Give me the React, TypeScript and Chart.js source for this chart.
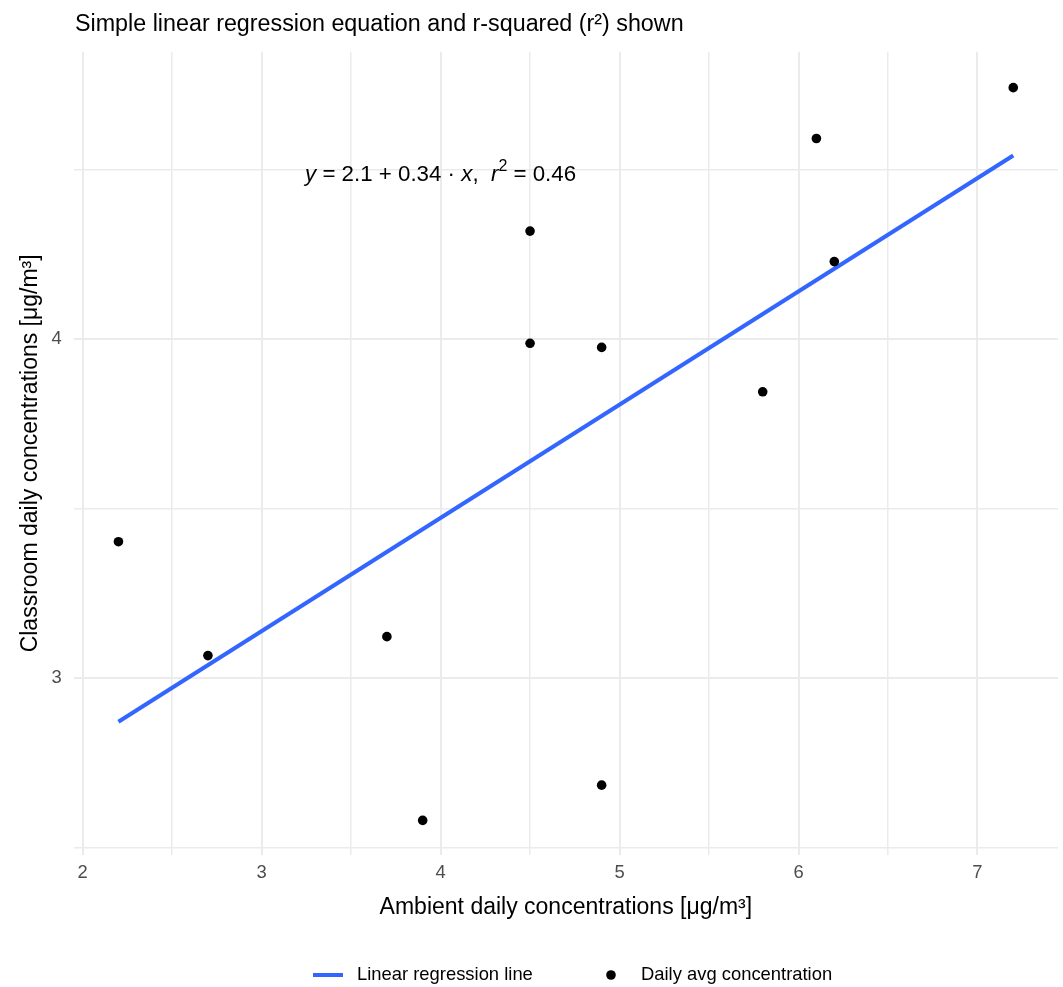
import React, { useEffect, useRef } from "react";
import { Chart, registerables } from "chart.js";

Chart.register(...registerables);

// ---- data ----
const ambient = [2.2, 2.7, 3.7, 3.9, 4.5, 4.5, 4.9, 4.9, 5.8, 6.1, 6.2, 7.2];
const classroom = [3.403, 3.067, 3.123, 2.581, 4.319, 3.988, 3.976, 2.685, 3.845, 4.592, 4.229, 4.742];
const fitX = [2.2, 7.2];
const fitY = [2.872, 4.542];

const xTicks = [2, 2.5, 3, 3.5, 4, 4.5, 5, 5.5, 6, 6.5, 7];
const xTickLabels = ["2", "", "3", "", "4", "", "5", "", "6", "", "7"];
const yTicks = [2.5, 3, 3.5, 4, 4.5];
const yTickLabels = ["", "3", "", "4", ""];
const xRange = [1.95, 7.45];
const yRange = [2.479, 4.848];

const titleText = "Simple linear regression equation and r-squared (r²) shown";
const xTitle = "Ambient daily concentrations [μg/m³]";
const yTitle = "Classroom daily concentrations [μg/m³]";
const legendLabels = ["Linear regression line", "Daily avg concentration"];
const equationAt = [4.0, 4.49];
const equationParts = [
  { t: "y", k: "i" },
  { t: " = 2.1 + 0.34 · ", k: "n" },
  { t: "x", k: "i" },
  { t: ",  ", k: "n" },
  { t: "r", k: "i" },
  { t: "2", k: "s" },
  { t: " = 0.46", k: "n" },
];

const FONT = '"Liberation Sans", Arial, Helvetica, sans-serif';
const LINE_COLOR = "#3366FF";
const GRID_COLOR = "#EBEBEB";

const extrasPlugin = {
  id: "extras",
  afterDatasetsDraw(chart: any) {
    const ctx = chart.ctx;
    const xs = chart.scales.x;
    const ys = chart.scales.y;
    const cx = xs.getPixelForValue(equationAt[0]);
    const cy = ys.getPixelForValue(equationAt[1]);
    const size = 22.3;
    const fN = `${size}px ${FONT}`;
    const fI = `italic ${size}px ${FONT}`;
    const fS = `${Math.round(size * 0.7)}px ${FONT}`;
    ctx.save();
    ctx.fillStyle = "#000";
    ctx.textBaseline = "alphabetic";
    ctx.textAlign = "left";
    const widths: number[] = [];
    let total = 0;
    for (const p of equationParts) {
      ctx.font = p.k === "i" ? fI : p.k === "s" ? fS : fN;
      const w = ctx.measureText(p.t).width;
      widths.push(w);
      total += w;
    }
    let x = cx - total / 2;
    const base = cy + 8;
    equationParts.forEach((p, i) => {
      ctx.font = p.k === "i" ? fI : p.k === "s" ? fS : fN;
      ctx.fillText(p.t, x, p.k === "s" ? base - size * 0.45 : base);
      x += widths[i];
    });
    ctx.restore();
  },
  afterDraw(chart: any) {
    const ctx = chart.ctx;
    ctx.save();
    // title
    ctx.fillStyle = "#000";
    ctx.font = `23.3px ${FONT}`;
    ctx.textAlign = "left";
    ctx.textBaseline = "alphabetic";
    ctx.fillText(titleText, 75, 31);

    // legend
    const ly = 975;
    ctx.font = `18.4px ${FONT}`;
    ctx.textBaseline = "middle";
    ctx.strokeStyle = LINE_COLOR;
    ctx.lineWidth = 4;
    ctx.lineCap = "butt";
    ctx.beginPath();
    ctx.moveTo(313, ly);
    ctx.lineTo(343, ly);
    ctx.stroke();
    ctx.fillStyle = "#000";
    ctx.fillText(legendLabels[0], 357, ly);
    ctx.beginPath();
    ctx.arc(611, ly, 4.8, 0, Math.PI * 2);
    ctx.fill();
    ctx.fillText(legendLabels[1], 641, ly);
    ctx.restore();
  },
};

export default function App() {
  const ref = useRef<HTMLCanvasElement | null>(null);

  useEffect(() => {
    if (!ref.current) return;
    const chart = new Chart(ref.current, {
      type: "scatter",
      data: {
        datasets: [
          {
            label: legendLabels[1],
            data: ambient.map((x, i) => ({ x, y: classroom[i] })),
            backgroundColor: "#000",
            borderColor: "#000",
            pointRadius: 4.8,
            pointBorderWidth: 0,
            order: 0,
          },
          {
            type: "line",
            label: legendLabels[0],
            data: fitX.map((x, i) => ({ x, y: fitY[i] })),
            borderColor: LINE_COLOR,
            borderWidth: 4,
            borderCapStyle: "butt",
            pointRadius: 0,
            showLine: true,
            fill: false,
            order: 1,
          } as any,
        ],
      },
      options: {
        animation: false,
        responsive: false,
        events: [],
        layout: { padding: { top: 51.7, right: 5, bottom: 40, left: 0 } },
        plugins: {
          legend: { display: false },
          title: { display: false },
          tooltip: { enabled: false },
        },
        scales: {
          x: {
            type: "linear",
            min: xRange[0],
            max: xRange[1],
            afterBuildTicks: (s: any) => {
              s.ticks = xTicks.map((v) => ({ value: v }));
            },
            afterFit: (s: any) => {
              s.height = 92;
            },
            ticks: {
              autoSkip: false,
              maxRotation: 0,
              padding: 7,
              color: "#4D4D4D",
              font: { family: FONT, size: 18.4 },
              callback: (v: any) => xTickLabels[xTicks.indexOf(Number(v))] ?? "",
            },
            grid: {
              color: GRID_COLOR,
              drawTicks: false,
              lineWidth: (c: any) => (c.tick && Number.isInteger(c.tick.value) ? 2 : 1.5),
            },
            border: { display: false },
            title: {
              display: true,
              text: xTitle,
              color: "#000",
              font: { family: FONT, size: 23 },
              padding: { top: 0, bottom: 25.5 },
            },
          },
          y: {
            type: "linear",
            min: yRange[0],
            max: yRange[1],
            afterBuildTicks: (s: any) => {
              s.ticks = yTicks.map((v) => ({ value: v }));
            },
            afterFit: (s: any) => {
              s.width = 73.7;
            },
            ticks: {
              autoSkip: false,
              padding: 12,
              color: "#4D4D4D",
              font: { family: FONT, size: 18.4 },
              callback: (v: any) => yTickLabels[yTicks.indexOf(Number(v))] ?? "",
            },
            grid: {
              color: GRID_COLOR,
              drawTicks: false,
              lineWidth: (c: any) => (c.tick && Number.isInteger(c.tick.value) ? 2 : 1.5),
            },
            border: { display: false },
            title: {
              display: true,
              text: yTitle,
              color: "#000",
              font: { family: FONT, size: 23 },
              padding: { top: 17, bottom: 0 },
            },
          },
        },
      },
      plugins: [extrasPlugin],
    } as any);
    return () => chart.destroy();
  }, []);

  return (
    <div style={{ position: "absolute", left: 0, top: 0, width: 1063, height: 987, background: "#fff" }}>
      <canvas ref={ref} width={1063} height={987} style={{ width: 1063, height: 987, display: "block" }} />
    </div>
  );
}
